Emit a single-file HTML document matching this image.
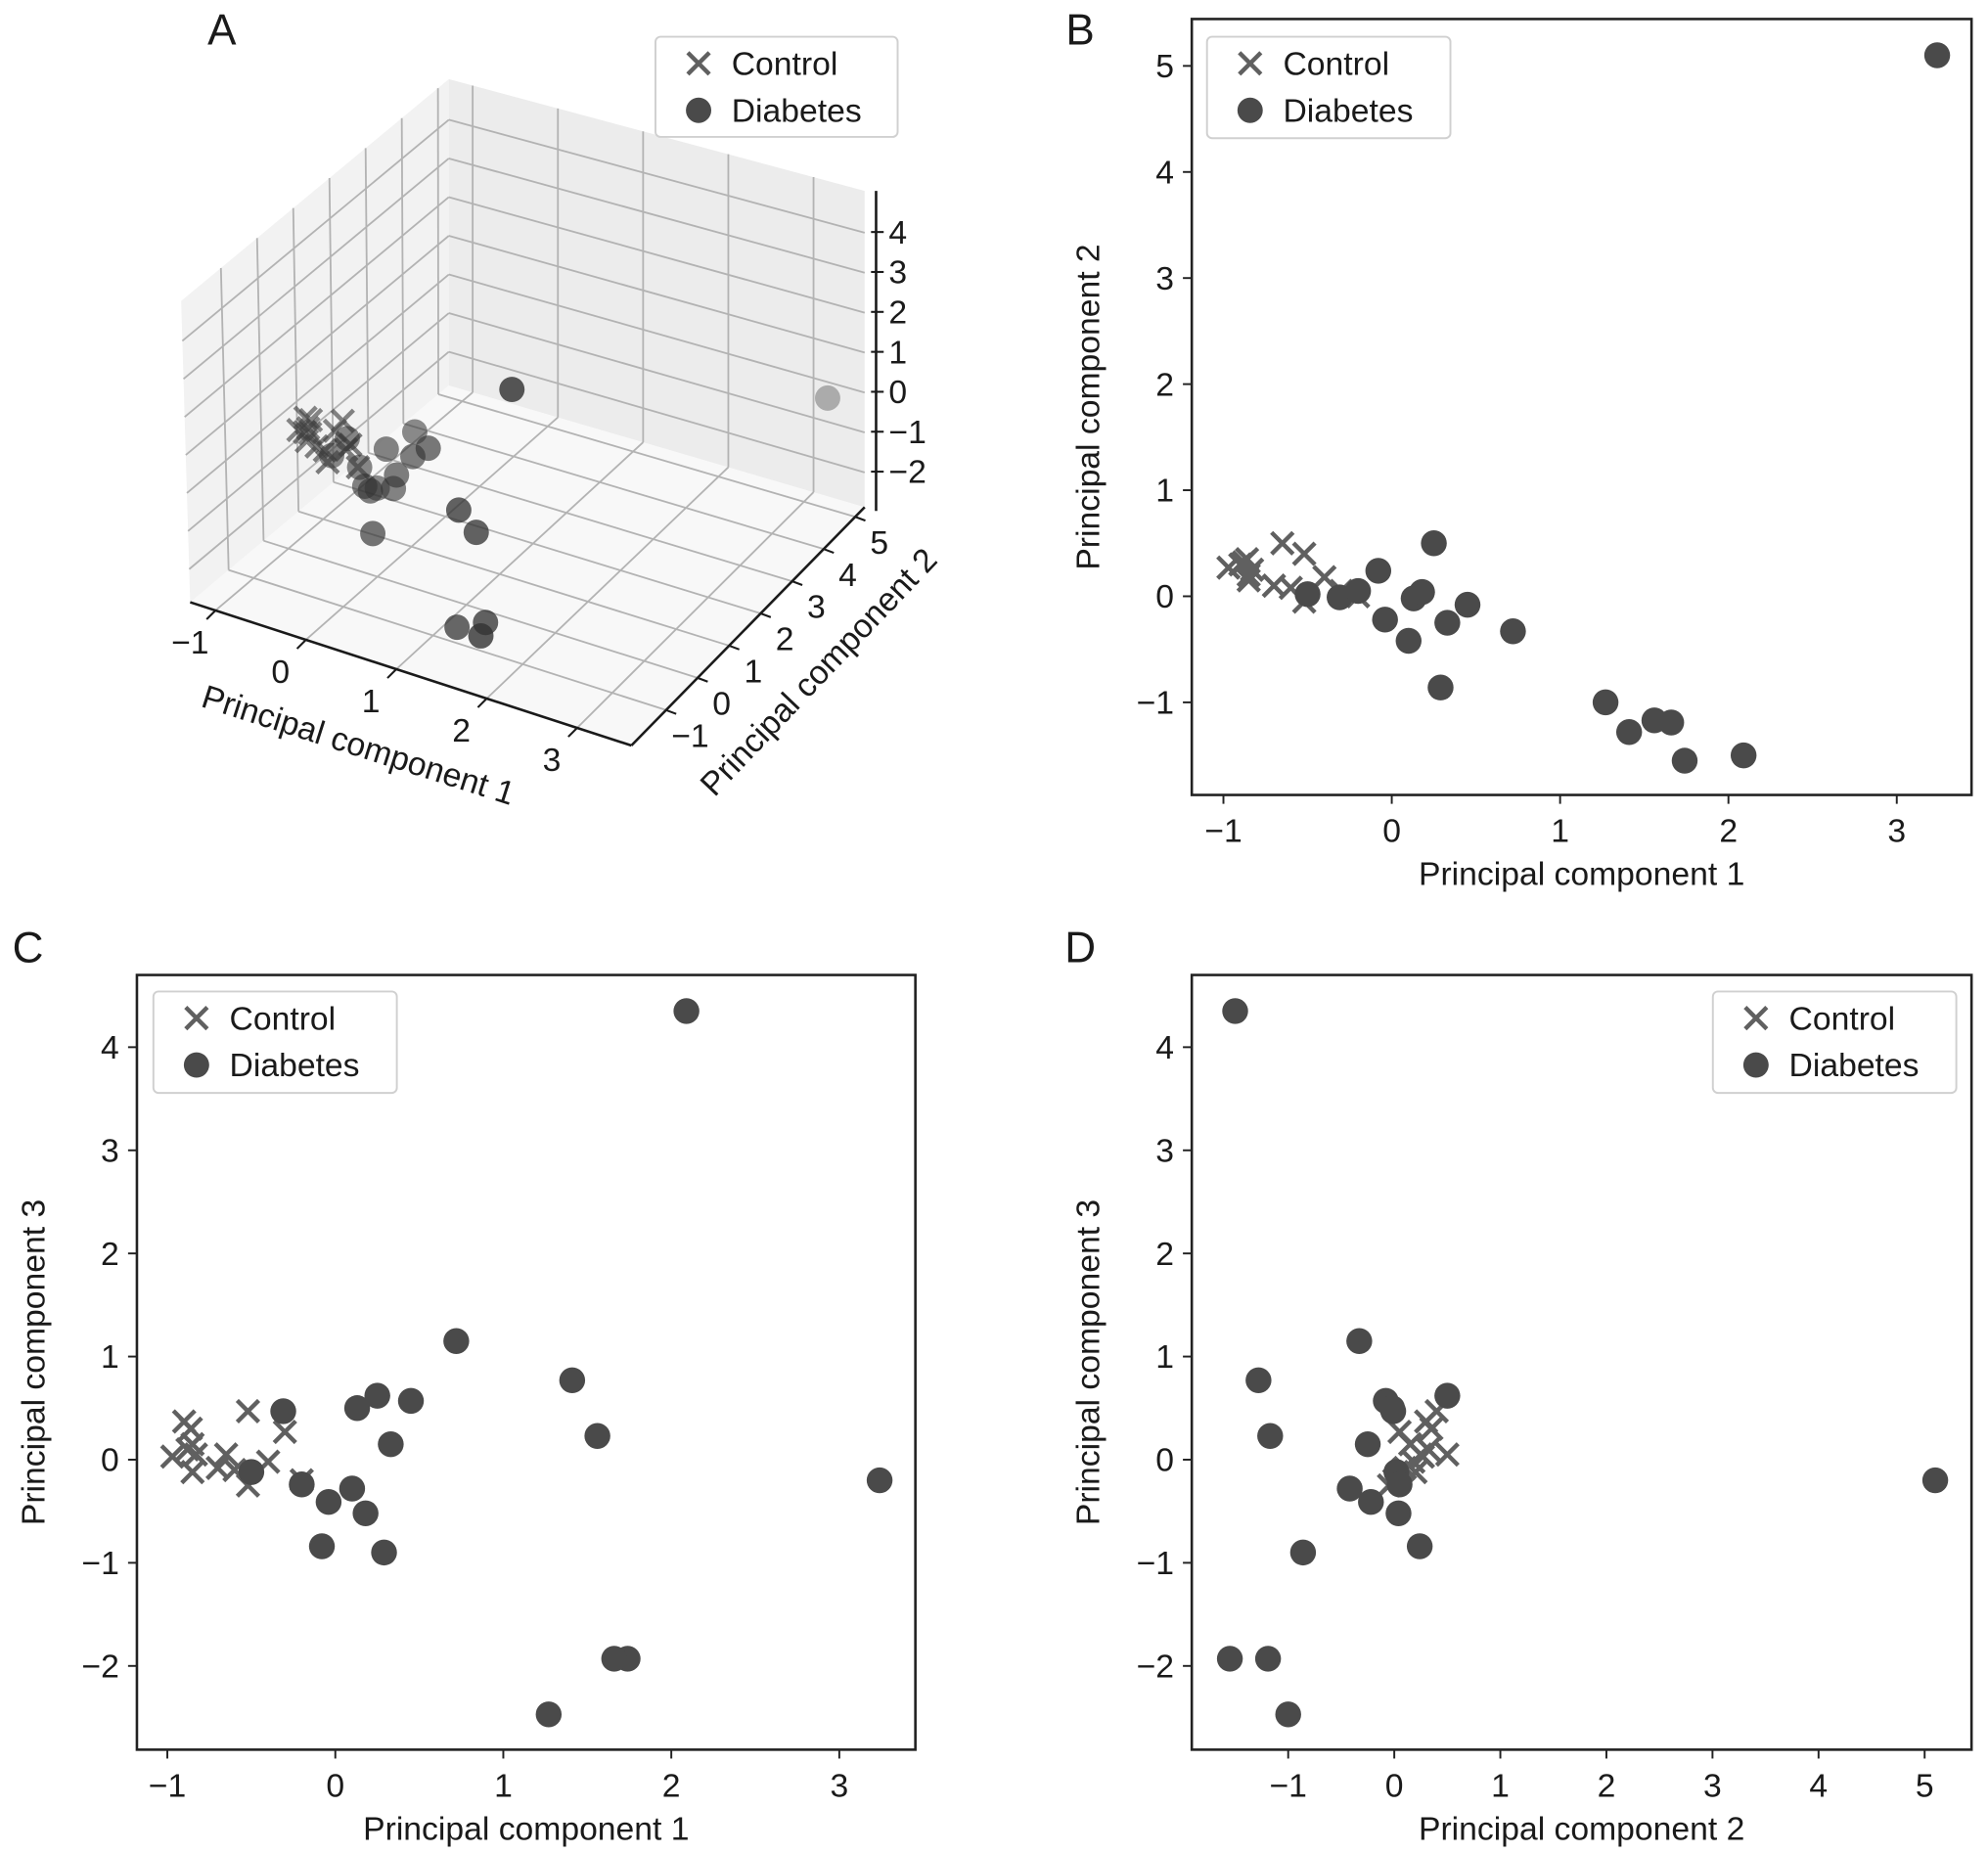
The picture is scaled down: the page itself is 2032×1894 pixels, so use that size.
<!DOCTYPE html>
<html><head><meta charset="utf-8">
<style>
html,body{margin:0;padding:0;background:#fff;}
svg{display:block;}
text{font-family:"Liberation Sans",Arial,sans-serif;fill:#1a1a1a;}
</style></head>
<body>
<svg id="fig" xmlns="http://www.w3.org/2000/svg" width="2032" height="1894" viewBox="0 0 1568 1461.5" preserveAspectRatio="none">
<rect x="0" y="0" width="1568" height="1461.5" fill="#fff"/>
<text x="175" y="35" font-size="34" text-anchor="middle">A</text>
<text x="852" y="35" font-size="34" text-anchor="middle">B</text>
<text x="22" y="759" font-size="34" text-anchor="middle">C</text>
<text x="852" y="759" font-size="34" text-anchor="middle">D</text>
</svg>
<script>
// ---- data (PC1, PC2, PC3) ----
const ctrlPC1 = [-0.97,-0.90,-0.86,-0.85,-0.83,-0.85,-0.70,-0.65,-0.60,-0.52,-0.52,-0.40,-0.30,-0.20,-0.88];
const ctrlPC2 = [0.27,0.30,0.35,0.15,0.25,0.20,0.10,0.50,0.08,0.40,-0.05,0.18,0.05,0.00,0.32];
const ctrlPC3 = [0.03,0.37,0.30,0.15,0.05,-0.12,-0.08,0.05,-0.10,0.47,-0.25,-0.02,0.27,-0.20,0.10];
const diabPC1 = [3.24,2.09,0.72,1.41,1.56,1.74,1.66,1.27,0.25,0.45,0.13,0.33,0.10,-0.04,0.18,0.29,-0.08,-0.31,-0.50,-0.20];
const diabPC2 = [5.10,-1.50,-0.33,-1.28,-1.17,-1.55,-1.19,-1.00,0.50,-0.08,-0.02,-0.25,-0.42,-0.22,0.04,-0.86,0.24,-0.01,0.02,0.05];
const diabPC3 = [-0.20,4.35,1.15,0.77,0.23,-1.93,-1.93,-2.47,0.62,0.57,0.50,0.15,-0.28,-0.41,-0.52,-0.90,-0.84,0.47,-0.12,-0.24];
const ticksPC1 = [-1,0,1,2,3];
const ticksPC2B = [-1,0,1,2,3,4,5];
const ticksPC3 = [-2,-1,0,1,2,3,4];
const ticks3dZ = [-2,-1,0,1,2,3,4];
const ticks3dY = [-1,0,1,2,3,4,5];
const seriesNames = ["Control","Diabetes"];

const NS="http://www.w3.org/2000/svg";
const svg=document.getElementById('fig');
function mk(tag,attrs,parent){const e=document.createElementNS(NS,tag);for(const k in attrs)e.setAttribute(k,attrs[k]);(parent||svg).appendChild(e);return e;}
function fmt(v){return v<0?'\u2212'+Math.abs(v):String(v);}
function xMarker(g,cx,cy,s,col,op){
  const p=mk('path',{d:`M${cx-s},${cy-s}L${cx+s},${cy+s}M${cx-s},${cy+s}L${cx+s},${cy-s}`,stroke:col,'stroke-width':3.4,fill:'none','stroke-opacity':op},g);
  return p;
}
function legend(x,y,w,h){
  const g=mk('g',{});
  
  
  mk('rect',{x:x,y:y,width:w,height:h,rx:4,fill:'#fff',stroke:'#d0d0d0','stroke-width':1.5},g);
  const e1=mk('g',{},g);
  
  
  xMarker(e1,x+34,y+21,8.5,'#606060',1);
  const t1=mk('text',{x:x+60,y:y+30,'font-size':26},e1);t1.textContent=seriesNames[0];
  const e2=mk('g',{},g);
  
  
  mk('circle',{cx:x+34,cy:y+58,r:10,fill:'#4a4a4a'},e2);
  const t2=mk('text',{x:x+60,y:y+67,'font-size':26},e2);t2.textContent=seriesNames[1];
}

function panel(o){
  const g=mk('g',{});
  
  
  const X=v=>o.bx+(v-o.xmin)/(o.xmax-o.xmin)*o.bw;
  const Y=v=>o.by+o.bh-(v-o.ymin)/(o.ymax-o.ymin)*o.bh;
  o.xticks.forEach(t=>{
    const px=X(t);
    mk('line',{x1:px,y1:o.by+o.bh,x2:px,y2:o.by+o.bh+7,stroke:'#222','stroke-width':1.5},g);
    const tx=mk('text',{x:px,y:o.by+o.bh+37,'font-size':26,'text-anchor':'middle'},g);
    
    
    tx.textContent=fmt(t);
  });
  o.yticks.forEach(t=>{
    const py=Y(t);
    mk('line',{x1:o.bx-7,y1:py,x2:o.bx,y2:py,stroke:'#222','stroke-width':1.5},g);
    const ty=mk('text',{x:o.bx-14,y:py+9,'font-size':26,'text-anchor':'end'},g);
    
    
    ty.textContent=fmt(t);
  });
  const xl=mk('text',{x:o.bx+o.bw/2,y:o.by+o.bh+71,'font-size':26,'text-anchor':'middle'},g);
  
  
  xl.textContent=o.xlabel;
  const ylx=o.bx-73, yly=o.by+o.bh/2;
  const yl=mk('text',{x:ylx,y:yly,'font-size':26,'text-anchor':'middle',transform:`rotate(-90 ${ylx} ${yly})`},g);
  
  
  yl.textContent=o.ylabel;
  const cg=mk('g',{},g);
  
  
  o.cx.forEach((v,i)=>{
    const m=xMarker(cg,X(v),Y(o.cy[i]),8.5,'#606060',1);
    
    
  });
  const dg=mk('g',{},g);
  
  
  o.dx.forEach((v,i)=>{
    const c=mk('circle',{cx:X(v),cy:Y(o.dy[i]),r:10.2,fill:'#4a4a4a'},dg);
    
    
  });
  const fr=mk('rect',{x:o.bx,y:o.by,width:o.bw,height:o.bh,fill:'none',stroke:'#222','stroke-width':2},g);
  
  
  legend(o.lx,o.ly,192,80);
}

panel({name:'panel-b',bx:940,by:15,bw:615,bh:612,xmin:-1.188,xmax:3.444,ymin:-1.873,ymax:5.442,
  xticks:ticksPC1,yticks:ticksPC2B,xlabel:'Principal component 1',ylabel:'Principal component 2',
  cx:ctrlPC1,cy:ctrlPC2,dx:diabPC1,dy:diabPC2,lx:952,ly:29});
panel({name:'panel-c',bx:108,by:769,bw:614,bh:611,xmin:-1.181,xmax:3.453,ymin:-2.812,ymax:4.70,
  xticks:ticksPC1,yticks:ticksPC3,xlabel:'Principal component 1',ylabel:'Principal component 3',
  cx:ctrlPC1,cy:ctrlPC3,dx:diabPC1,dy:diabPC3,lx:121,ly:782});
panel({name:'panel-d',bx:940,by:769,bw:615,bh:611,xmin:-1.909,xmax:5.442,ymin:-2.812,ymax:4.70,
  xticks:ticksPC2B,yticks:ticksPC3,xlabel:'Principal component 2',ylabel:'Principal component 3',
  cx:ctrlPC2,cy:ctrlPC3,dx:diabPC2,dy:diabPC3,lx:1351,ly:782});

// ---- 3D panel A ----
(function(){
  const g=mk('g',{});
  
  
  const xmin=-1.28,xmax=3.6,ymin=-2.1,ymax=5.3,zmin=-2.87,zmax=5.05;
  const FL=[150,475],FR=[498,588],BR=[682,400],BL=[354,304];
  const ZS={FL:30,FR:33,BR:31.5,BL:30.5};
  function P(x,y,z){
    const u=(x-xmin)/(xmax-xmin),v=(y-ymin)/(ymax-ymin);
    const w1=(1-u)*(1-v),w2=u*(1-v),w3=u*v,w4=(1-u)*v;
    const sx=FL[0]*w1+FR[0]*w2+BR[0]*w3+BL[0]*w4;
    const sy=FL[1]*w1+FR[1]*w2+BR[1]*w3+BL[1]*w4;
    const zs=ZS.FL*w1+ZS.FR*w2+ZS.BR*w3+ZS.BL*w4;
    const lean=-0.03*w1;
    const dz=(z-zmin)*zs;
    return [sx+lean*dz, sy-dz];
  }
  const poly=pts=>pts.map(p=>p.join(',')).join(' ');
  mk('polygon',{points:poly([P(xmin,ymin,zmin),P(xmax,ymin,zmin),P(xmax,ymax,zmin),P(xmin,ymax,zmin)]),fill:'#f8f8f8'},g);
  mk('polygon',{points:poly([P(xmin,ymin,zmin),P(xmin,ymax,zmin),P(xmin,ymax,zmax),P(xmin,ymin,zmax)]),fill:'#f2f2f2'},g);
  mk('polygon',{points:poly([P(xmin,ymax,zmin),P(xmax,ymax,zmin),P(xmax,ymax,zmax),P(xmin,ymax,zmax)]),fill:'#ececec'},g);
  const gl=(a,b)=>mk('line',{x1:a[0],y1:a[1],x2:b[0],y2:b[1],stroke:'#b3b3b3','stroke-width':1.4},g);
  ticksPC1.forEach(t=>{gl(P(t,ymin,zmin),P(t,ymax,zmin));gl(P(t,ymax,zmin),P(t,ymax,zmax));});
  ticks3dY.forEach(t=>{gl(P(xmin,t,zmin),P(xmax,t,zmin));gl(P(xmin,t,zmin),P(xmin,t,zmax));});
  ticks3dZ.forEach(t=>{gl(P(xmin,ymin,t),P(xmin,ymax,t));gl(P(xmin,ymax,t),P(xmax,ymax,t));});
  const ax=(a,b)=>mk('line',{x1:a[0],y1:a[1],x2:b[0],y2:b[1],stroke:'#1a1a1a','stroke-width':2},g);
  ax(P(xmin,ymin,zmin),P(xmax,ymin,zmin));
  ax(P(xmax,ymin,zmin),P(xmax,ymax,zmin));
  const zx=BR[0]+9;
  const zb=P(xmax,ymax,zmin)[1]+3, zt=P(xmax,ymax,zmax)[1];
  ax([zx,zb],[zx,zt]);
  ticksPC1.forEach(t=>{
    const p=P(t,ymin,zmin);
    mk('line',{x1:p[0],y1:p[1],x2:p[0]-7,y2:p[1]+7,stroke:'#1a1a1a','stroke-width':1.6},g);
    const tx=mk('text',{x:p[0]-20,y:p[1]+34,'font-size':26,'text-anchor':'middle'},g);
    
    
    tx.textContent=fmt(t);
  });
  ticks3dY.forEach(t=>{
    const p=P(xmax,t,zmin);
    mk('line',{x1:p[0],y1:p[1],x2:p[0]+8,y2:p[1]+3,stroke:'#1a1a1a','stroke-width':1.6},g);
    const tx=mk('text',{x:p[0]+19,y:p[1]+29,'font-size':26,'text-anchor':'middle'},g);
    
    
    tx.textContent=fmt(t);
  });
  const zr0=-2, zr1=4, zp0=372, zp1=183;
  ticks3dZ.forEach(t=>{
    const py=zp0+(t-zr0)*(zp1-zp0)/(zr1-zr0);
    mk('line',{x1:zx-4,y1:py,x2:zx+6,y2:py,stroke:'#1a1a1a','stroke-width':1.6},g);
    const tx=mk('text',{x:zx+10,y:py+9,'font-size':26},g);
    
    
    tx.textContent=fmt(t);
  });
  const l1=mk('text',{x:280,y:596,'font-size':26,'text-anchor':'middle',transform:'rotate(17.7 280 596)'},g);
  
  
  l1.textContent='Principal component 1';
  const l2=mk('text',{x:652,y:536,'font-size':26,'text-anchor':'middle',transform:'rotate(-46.5 652 536)'},g);
  
  
  l2.textContent='Principal component 2';
  const pts=[];
  ctrlPC1.forEach((v,i)=>pts.push({t:0,x:v,y:ctrlPC2[i],z:ctrlPC3[i]}));
  diabPC1.forEach((v,i)=>pts.push({t:1,x:v,y:diabPC2[i],z:diabPC3[i]}));
  pts.forEach(p=>{p.d=(p.y-ymin)/(ymax-ymin)*0.7+(xmax-p.x)/(xmax-xmin)*0.3;});
  pts.sort((a,b)=>b.d-a.d);
  const mg=mk('g',{},g);
  
  
  pts.forEach(p=>{
    const s=P(p.x,p.y,p.z);
    const op=Math.max(0.3,Math.min(0.9,0.95-0.85*p.d));
    if(p.t===0){
      const m=xMarker(mg,s[0],s[1],8.5,'#404040',op+0.1);
      
      
    }else{
      const c=mk('circle',{cx:s[0],cy:s[1],r:10,fill:'#333','fill-opacity':op},mg);
      
      
    }
  });
  legend(517,29,191,79);
})();
</script>
</body></html>
